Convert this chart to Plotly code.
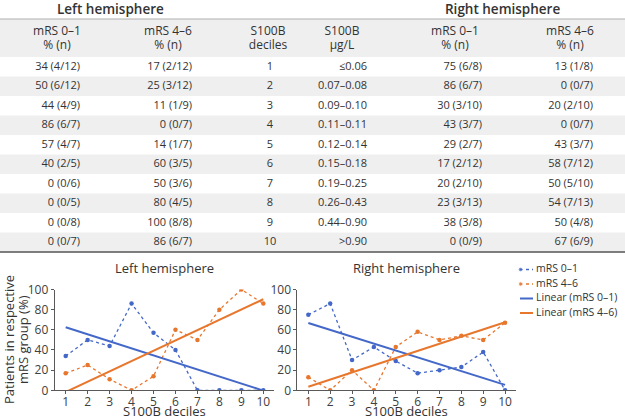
import numpy as np
import plotly.graph_objects as go

# ---------------- data ----------------
deciles = [1, 2, 3, 4, 5, 6, 7, 8, 9, 10]
s100b_ranges = ["≤0.06", "0.07–0.08", "0.09–0.10", "0.11–0.11", "0.12–0.14",
                "0.15–0.18", "0.19–0.25", "0.26–0.43", "0.44–0.90", ">0.90"]
left_good_pct = [34, 50, 44, 86, 57, 40, 0, 0, 0, 0]
left_good_n = ["4/12", "6/12", "4/9", "6/7", "4/7", "2/5", "0/6", "0/5", "0/8", "0/7"]
left_poor_pct = [17, 25, 11, 0, 14, 60, 50, 80, 100, 86]
left_poor_n = ["2/12", "3/12", "1/9", "0/7", "1/7", "3/5", "3/6", "4/5", "8/8", "6/7"]
right_good_pct = [75, 86, 30, 43, 29, 17, 20, 23, 38, 0]
right_good_n = ["6/8", "6/7", "3/10", "3/7", "2/7", "2/12", "2/10", "3/13", "3/8", "0/9"]
right_poor_pct = [13, 0, 20, 0, 43, 58, 50, 54, 50, 67]
right_poor_n = ["1/8", "0/7", "2/10", "0/7", "3/7", "7/12", "5/10", "7/13", "4/8", "6/9"]

header_line1 = ["mRS 0–1", "mRS 4–6", "S100B", "S100B", "mRS 0–1", "mRS 4–6"]
header_line2 = ["% (n)", "% (n)", "deciles", "μg/L", "% (n)", "% (n)"]
series_names = ["mRS 0–1", "mRS 4–6", "Linear (mRS 0–1)", "Linear (mRS 4–6)"]
yticks = [0, 20, 40, 60, 80, 100]

FONT = "Open Sans"
TXT = "#333333"
BLUE = "#4468c8"
ORANGE = "#e8772e"
AX = "#595959"
W, H = 625, 419

def cells(p, n):
    return [f"{a} ({b})" for a, b in zip(p, n)]

fig = go.Figure()

# ---------------- table (axis x3/y3: pixel-like x, row-index y) ----------------
ROW_H = 19.5
ROW1_C = 66.75
def prow(p):  # pixel -> row units
    return (p - (ROW1_C - ROW_H)) / ROW_H

TAB_BOTTOM = 256
fig.update_layout(
    xaxis3=dict(domain=[0, 1], range=[0, W], visible=False, fixedrange=True),
    yaxis3=dict(domain=[1 - TAB_BOTTOM / H, 1], range=[prow(TAB_BOTTOM), prow(0)],
                visible=False, fixedrange=True),
)

shapes = []
shapes.append(dict(type="rect", xref="x3", yref="y3", x0=0, x1=W, y0=prow(19), y1=0.5,
                   fillcolor="#efefef", line=dict(width=0), layer="below"))
for d in deciles:
    if d % 2 == 0:
        shapes.append(dict(type="rect", xref="x3", yref="y3", x0=0, x1=W,
                           y0=d - 0.5, y1=d + 0.5, fillcolor="#efefef",
                           line=dict(width=0), layer="below"))
shapes.append(dict(type="line", xref="x3", yref="y3", x0=0, x1=W, y0=prow(19), y1=prow(19),
                   line=dict(color="#b0b0b0", width=1.2)))
shapes.append(dict(type="line", xref="x3", yref="y3", x0=0, x1=W, y0=10.5, y1=10.5,
                   line=dict(color="#555555", width=1.5)))

header_x = [57, 168, 268, 342, 455, 570]
fig.add_trace(go.Scatter(x=header_x, y=[prow(32)] * 6, text=header_line1, mode="text",
                         textposition="middle center", xaxis="x3", yaxis="y3",
                         textfont=dict(family=FONT, size=12, color=TXT),
                         showlegend=False, hoverinfo="skip"))
fig.add_trace(go.Scatter(x=header_x, y=[prow(46)] * 6, text=header_line2, mode="text",
                         textposition="middle center", xaxis="x3", yaxis="y3",
                         textfont=dict(family=FONT, size=12, color=TXT),
                         showlegend=False, hoverinfo="skip"))

columns = [
    (80, cells(left_good_pct, left_good_n), "middle left"),
    (192, cells(left_poor_pct, left_poor_n), "middle left"),
    (270, [str(d) for d in deciles], "middle center"),
    (367, s100b_ranges, "middle left"),
    (482, cells(right_good_pct, right_good_n), "middle left"),
    (593, cells(right_poor_pct, right_poor_n), "middle left"),
]
for cx, txt, pos in columns:
    fig.add_trace(go.Scatter(x=[cx] * len(deciles), y=deciles, text=txt, mode="text",
                             textposition=pos, xaxis="x3", yaxis="y3",
                             textfont=dict(family=FONT, size=11, color=TXT),
                             showlegend=False, hoverinfo="skip"))

# ---------------- line charts ----------------
def trend(vals):
    k, b = np.polyfit(deciles, vals, 1)
    return [k * d + b for d in deciles]

styles = [dict(color=BLUE, width=1.3, dash="dot"), dict(color=ORANGE, width=1.3, dash="dot"),
          dict(color=BLUE, width=2), dict(color=ORANGE, width=2)]
panels = [("x", "y", left_good_pct, left_poor_pct),
          ("x2", "y2", right_good_pct, right_poor_pct)]
for xa, ya, good, poor in panels:
    for i, vals in enumerate([good, poor]):
        fig.add_trace(go.Scatter(x=deciles, y=vals, mode="lines+markers", name=series_names[i],
                                 line=styles[i], marker=dict(color=styles[i]["color"], size=4.5),
                                 xaxis=xa, yaxis=ya, showlegend=False))
    for i, vals in enumerate([good, poor]):
        fig.add_trace(go.Scatter(x=deciles, y=trend(vals), mode="lines",
                                 name=series_names[i + 2], line=styles[i + 2],
                                 xaxis=xa, yaxis=ya, showlegend=False))

# ---------------- legend (axis x4/y4: pixel-like x, entry-index y) ----------------
LEG_L, LEG_TOP, LEG_BOT, LEG_Y0, LEG_DY = 520, 258, 324, 269.5, 14.5
fig.update_layout(
    xaxis4=dict(domain=[LEG_L / W, 1], range=[LEG_L, W], visible=False, fixedrange=True),
    yaxis4=dict(domain=[1 - LEG_BOT / H, 1 - LEG_TOP / H],
                range=[(LEG_BOT - LEG_Y0) / LEG_DY, (LEG_TOP - LEG_Y0) / LEG_DY],
                visible=False, fixedrange=True),
)
for i, nm in enumerate(series_names):
    has_marker = i < 2
    fig.add_trace(go.Scatter(x=[508, 520.5, 533], y=[i] * 3,
                             mode="lines+markers" if has_marker else "lines",
                             line=styles[i], cliponaxis=False,
                             marker=dict(color=styles[i]["color"], size=[0, 4.5, 0]),
                             xaxis="x4", yaxis="y4", showlegend=False, hoverinfo="skip"))
fig.add_trace(go.Scatter(x=[536] * len(series_names), y=list(range(len(series_names))),
                         text=series_names, mode="text", textposition="middle right",
                         textfont=dict(family=FONT, size=10.5, color=TXT), cliponaxis=False,
                         xaxis="x4", yaxis="y4", showlegend=False, hoverinfo="skip"))

ax_common = dict(showline=True, linecolor=AX, linewidth=1, ticks="outside", ticklen=3,
                 tickcolor=AX, showgrid=False, zeroline=False, fixedrange=True,
                 tickfont=dict(family=FONT, size=12, color="#404040"))
ydom = [1 - 390.3 / H, 1 - 289.5 / H]
fig.update_layout(
    xaxis=dict(domain=[54.7 / W, 274.3 / W], range=[0.5, 10.5], tickvals=deciles,
               anchor="y", ticklabelstandoff=-3, **ax_common),
    yaxis=dict(domain=ydom, range=[0, 100], tickvals=yticks, anchor="x", **ax_common),
    xaxis2=dict(domain=[297.4 / W, 516 / W], range=[0.5, 10.5], tickvals=deciles,
                anchor="y2", ticklabelstandoff=-3, **ax_common),
    yaxis2=dict(domain=ydom, range=[0, 100], tickvals=yticks, anchor="x2", **ax_common),
)

def ann(text, px, py, size=13, weight=400, angle=0):
    return dict(text=text, x=px / W, y=1 - py / H, xref="paper", yref="paper",
                xanchor="center", yanchor="middle", showarrow=False, textangle=angle,
                font=dict(family=FONT, size=size, color=TXT, weight=weight))

annotations = [
    ann("Left hemisphere", 110, 9, 13.5, 600),
    ann("Right hemisphere", 502, 9, 13.5, 600),
    ann("Left hemisphere", 164.5, 268),
    ann("Right hemisphere", 406.7, 268),
    ann("S100B deciles", 164.5, 410.5),
    ann("S100B deciles", 406.7, 410.5),
    ann("Patients in respective", 9, 340, angle=-90),
    ann("mRS group (%)", 23, 340, angle=-90),
]

fig.update_layout(
    width=W, height=H, margin=dict(l=0, r=0, t=0, b=0, autoexpand=False),
    paper_bgcolor="white", plot_bgcolor="rgba(0,0,0,0)",
    shapes=shapes, annotations=annotations,
    font=dict(family=FONT, color=TXT), showlegend=False,
)

fig.write_html("out.html", config={"displayModeBar": False},
               post_script="document.body.style.margin='0px';")
